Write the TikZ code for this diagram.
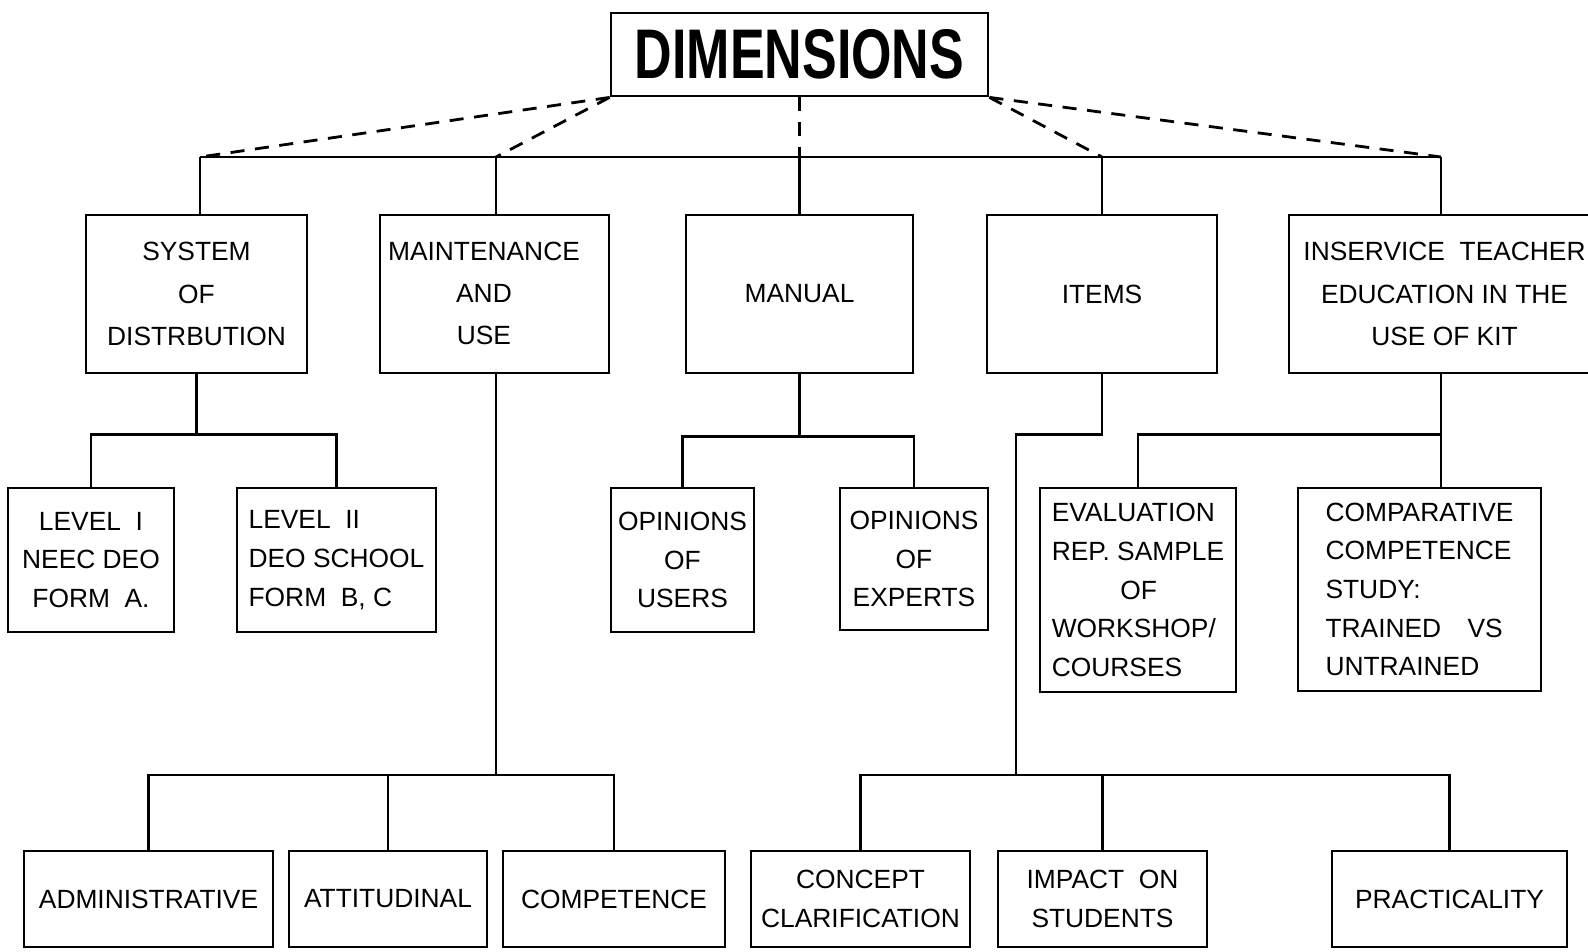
\documentclass[tikz,border=0pt]{standalone}
\usepackage{fontspec}
\setmainfont{Liberation Sans}
\usetikzlibrary{calc}
\tikzset{box/.style 2 args={draw, line width=\boxlinewidth, inner sep=0pt, align=center,
      minimum width=#1*0.02cm, minimum height=#2*0.02cm, font=\fontsize{15}{22}\selectfont},
    topbox/.style 2 args={box={#1}{#2}, font=\fontsize{15}{24}\selectfont},
    link/.style={line width=\boxlinewidth},
    dimlink/.style={line width=\boxlinewidth, dash pattern=on 8pt off 6pt}}
\newcommand{\boxlinewidth}{1.6pt}

\begin{document}
\begin{tikzpicture}[x=0.02cm, y=-0.02cm]
\useasboundingbox (0,0) rectangle (1588,951);

\node[box={377}{83}, font=\fontsize{40}{40}\selectfont\bfseries] (dim) at (799.5,54.5) {\scalebox{0.74}[1]{DIMENSIONS}};

\node[topbox={221}{158}] (sys) at (196.5,294) {SYSTEM\\OF\\DISTRBUTION};
\node[topbox={229}{158}] (mnt) at (494.5,294) {\begin{tabular}{@{}c@{\hspace{0.8em}}}MAINTENANCE\\AND\\USE\end{tabular}};
\node[topbox={227}{158}] (man) at (799.5,294) {MANUAL};
\node[topbox={230}{158}] (itm) at (1102,294) {ITEMS};
\node[topbox={311}{158}] (isv) at (1444.5,294) {INSERVICE\ \ TEACHER\\EDUCATION IN THE\\USE OF KIT};

\node[box={166}{144}] (lv1) at (91,560) {LEVEL\ \ I\\NEEC DEO\\FORM\ \ A.};
\node[box={199}{144}, align=left] (lv2) at (336.5,560) {LEVEL\ \ II\\DEO SCHOOL\\FORM\ \ B, C};
\node[box={143}{144}] (usr) at (682.5,560) {OPINIONS\\OF\\USERS};
\node[box={148}{142}] (exp) at (914,559) {OPINIONS\\OF\\EXPERTS};
\node[box={196}{204}, align=left] (evl) at (1138,590) {EVALUATION\\REP. SAMPLE\\\hspace*{2.6em}OF\\WORKSHOP/\\COURSES};
\node[box={243}{203}, align=left] (cmp) at (1419.5,589.5) {COMPARATIVE\\COMPETENCE\\STUDY:\\TRAINED\quad VS\\UNTRAINED};

\node[box={249}{96}] (adm) at (148.5,899) {ADMINISTRATIVE};
\node[box={198}{96}] (att) at (388,899) {ATTITUDINAL};
\node[box={222}{96}] (cpt) at (614,899) {COMPETENCE};
\node[box={219}{96}] (ccl) at (860.5,899) {CONCEPT\\CLARIFICATION};
\node[box={209}{96}] (imp) at (1102.5,899) {IMPACT\ \ ON\\STUDENTS};
\node[box={235}{96}] (prc) at (1449.5,899) {PRACTICALITY};

\coordinate (bl) at (200,157);
\coordinate (br) at (1441,157);
\draw[link] (bl) -- (br);
\draw[dimlink] (dim.south west) -- (bl);
\draw[dimlink] (dim.south west) -- (496,157);
\draw[dimlink] (dim.south) -- (man.north |- bl);
\draw[dimlink] (dim.south east) -- (1102,157);
\draw[dimlink] (dim.south east) -- (br);
\draw[link] (bl) -- (sys.north -| bl);
\draw[link] (496,157) -- (mnt.north -| 496,0);
\draw[link] (man.north |- bl) -- (man.north);
\draw[link] (1102,157) -- (itm.north);
\draw[link] (br) -- (isv.north -| br);

\draw[link] (lv1.north) |- ($(sys.south)+(0,60)$) -| (lv2.north);
\draw[link] (sys.south) -- ++(0,60);
\draw[link] (usr.north) |- ($(man.south)+(0,62)$) -| (exp.north);
\draw[link] (man.south) -- ++(0,62);
\draw[link] (evl.north) |- ($(isv.south -| br)+(0,60)$);
\draw[link] (isv.south -| br) -- (cmp.north -| br);

\draw[link] (mnt.south -| 496,0) -- (496,775);
\draw[link] (adm.north) |- (cpt.north |- 496,775) -- (cpt.north);
\draw[link] (att.north) -- (att.north |- 496,775);
\draw[link] (itm.south) -- ++(0,60) -| (1016,775);
\draw[link] (ccl.north) |- (prc.north |- 1016,775) -- (prc.north);
\draw[link] (imp.north) -- (imp.north |- 1016,775);
\end{tikzpicture}
\end{document}
